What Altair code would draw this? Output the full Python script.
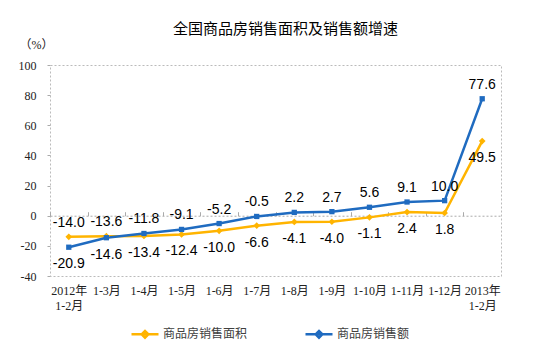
import altair as alt
import pandas as pd

categories = ["2012年|1-2月", "1-3月", "1-4月", "1-5月", "1-6月", "1-7月",
              "1-8月", "1-9月", "1-10月", "1-11月", "1-12月", "2013年|1-2月"]
series_names = ["商品房销售面积", "商品房销售额"]
area_growth = [-14.0, -13.6, -13.4, -12.4, -10.0, -6.6, -4.1, -4.0, -1.1, 2.4, 1.8, 49.5]
amount_growth = [-20.9, -14.6, -11.8, -9.1, -5.2, -0.5, 2.2, 2.7, 5.6, 9.1, 10.0, 77.6]
y_ticks = [-40, -20, 0, 20, 40, 60, 80, 100]

rows = []
for name, vals in zip(series_names, [area_growth, amount_growth]):
    for c, v in zip(categories, vals):
        rows.append({"cat": c, "series": name, "value": v})
df = pd.DataFrame(rows)

W, H = 451, 211
YELLOW = "#FFB400"
BLUE = "#1F6BC0"
SERIF = "Liberation Serif, Noto Sans CJK SC"
SANS = "Liberation Sans, Arial"
CJK = "Noto Sans CJK SC"
MINUS = "\u2212"

xscale = alt.Scale(type="point", padding=0.5)
yscale = alt.Scale(domain=[-40, 100], nice=False, zero=False)
cscale = alt.Scale(domain=series_names, range=[YELLOW, BLUE])

y_axis = alt.Axis(values=y_ticks, format="d", grid=False, domain=False,
                  labelExpr=f"replace(datum.label, '{MINUS}', '-')",
                  tickColor="#aaa", tickSize=3, labelPadding=11,
                  labelFont=SERIF, labelFontSize=12, labelColor="#222",
                  titleAngle=0, titleX=-14, titleY=-21, titleAlign="center",
                  titleBaseline="middle", titleFont=SERIF, titleFontSize=12,
                  titleFontWeight="normal", titleColor="#222")
Y = alt.Y("value:Q", scale=yscale, title="（%）", axis=y_axis)
Y_plain = alt.Y("value:Q", scale=yscale, axis=None)
X_plain = alt.X("cat:N", sort=categories, scale=xscale, axis=None)

base = alt.Chart(df)

lines = base.mark_line(strokeWidth=2.5).encode(
    x=alt.X("cat:N", sort=categories, scale=xscale, title=None,
            axis=alt.Axis(orient="bottom", labelExpr="split(datum.label, '|')",
                          labelAngle=0, domain=False, ticks=False, labelPadding=9,
                          labelFont=SERIF, labelFontSize=12, labelColor="#222",
                          labelLineHeight=15)),
    y=Y,
    color=alt.Color("series:N", scale=cscale,
                    legend=alt.Legend(orient="none", legendX=80, legendY=254, direction="horizontal",
                                      title=None,
                                      symbolType="M-1,0H1M-0.25,0L0,-0.25L0.25,0L0,0.25Z",
                                      symbolSize=729, symbolStrokeWidth=2.5,
                                      labelFont=CJK, labelFontSize=12, labelColor="#404040",
                                      labelOffset=3, columnPadding=52)),
    order=alt.Order("series:N"),
)

x_top = alt.X("cat:N", sort=categories, scale=xscale, title=None,
              axis=alt.Axis(orient="top", offset=-H * 100 / 140, labels=False,
                            domainColor="#aaa", domainDash=[2, 2], domainWidth=1,
                            tickColor="#aaa", tickSize=4, tickOffset=-(W / 12) / 2,
                            grid=False))

pts_area = base.transform_filter(alt.datum.series == series_names[0]).mark_point(
    filled=True, opacity=1, shape="diamond", size=45, color=YELLOW
).encode(x=x_top, y=Y_plain)

pts_amount = base.transform_filter(alt.datum.series == series_names[1]).mark_point(
    filled=True, opacity=1, shape="square", size=28, color=BLUE
).encode(x=X_plain, y=Y_plain)

labelled = base.transform_joinaggregate(
    top="max(value)", groupby=["cat"]
).transform_calculate(
    is_top="datum.value == datum.top",
    label=f"replace(format(datum.value, '.1f'), '{MINUS}', '-')",
)

text_enc = dict(x=X_plain, y=Y_plain, text=alt.Text("label:N"))

above = labelled.transform_filter("datum.is_top").mark_text(
    dy=-14, font=SANS, fontSize=14, color="#000", baseline="middle"
).encode(**text_enc)

below = labelled.transform_filter("!datum.is_top").mark_text(
    dy=17, font=SANS, fontSize=14, color="#000", baseline="middle"
).encode(**text_enc)

chart = alt.layer(lines, pts_area, pts_amount, above, below).resolve_axis(
    x="independent", y="independent"
).properties(
    width=W, height=H,
    title=alt.Title("全国商品房销售面积及销售额增速", font=CJK, fontSize=15,
                    fontWeight="normal", color="#000", anchor="middle",
                    offset=1, dx=10),
    autosize=alt.AutoSizeParams(type="none"),
    padding={"left": 50, "top": 65, "right": 56, "bottom": 77},
).configure_view(stroke="#bbb", strokeDash=[2, 2], strokeWidth=1)

chart.save("out.html", embed_options={"renderer": "svg", "actions": False})
